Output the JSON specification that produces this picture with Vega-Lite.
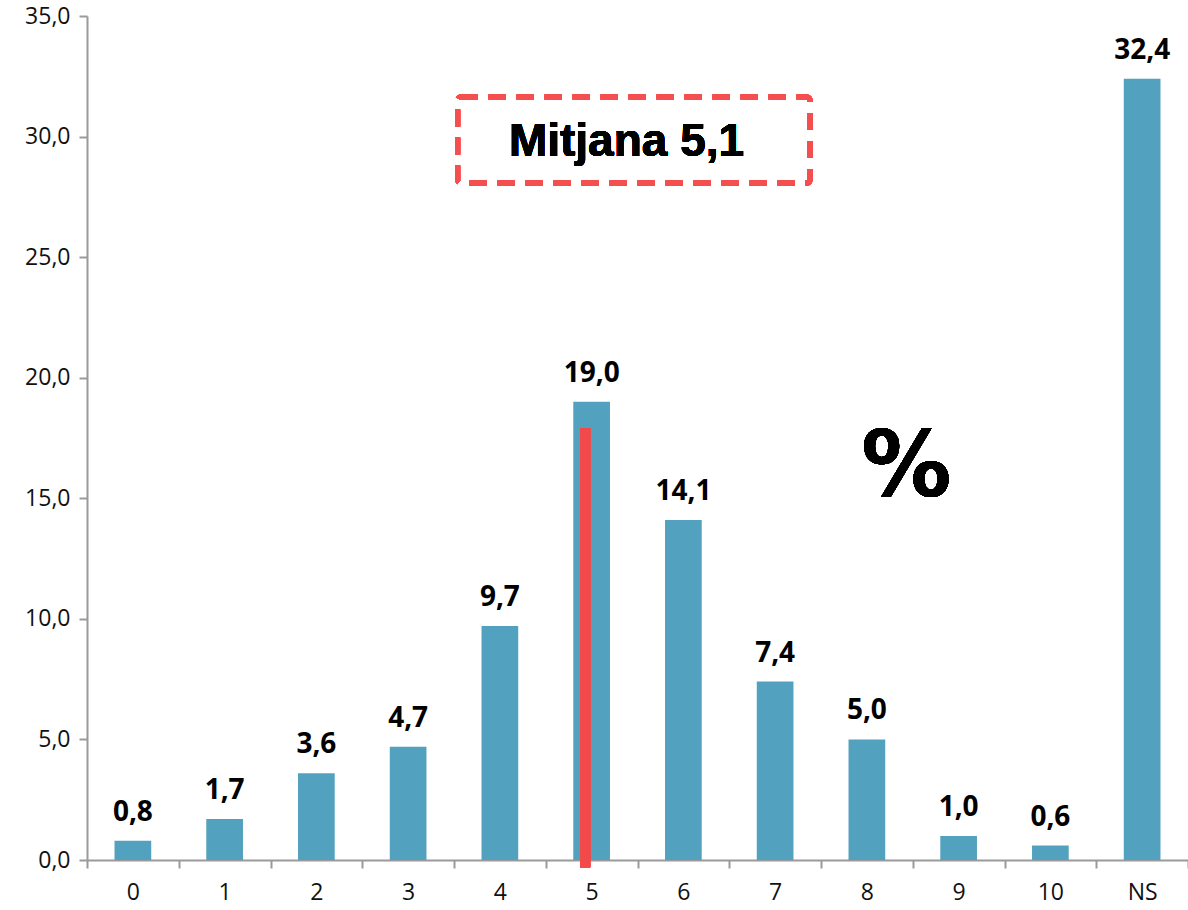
{
  "$schema": "https://vega.github.io/schema/vega-lite/v6.json",
  "width": 1101,
  "height": 844,
  "autosize": "none",
  "padding": {"left": 87, "top": 16, "right": 0, "bottom": 50},
  "background": "white",
  "config": {
    "view": {"stroke": null},
    "locale": {"number": {"decimal": ",", "thousands": ".", "grouping": [3], "currency": ["", " €"]}},
    "axis": {
      "domainColor": "#9a9a9a",
      "domainWidth": 2,
      "tickColor": "#9a9a9a",
      "tickWidth": 2,
      "tickSize": 8,
      "labelFont": "Open Sans",
      "labelColor": "#111111",
      "grid": false,
      "title": null
    }
  },
  "data": {
    "values": [
      {"cat": "0", "pct": 0.8},
      {"cat": "1", "pct": 1.7},
      {"cat": "2", "pct": 3.6},
      {"cat": "3", "pct": 4.7},
      {"cat": "4", "pct": 9.7},
      {"cat": "5", "pct": 19.0},
      {"cat": "6", "pct": 14.1},
      {"cat": "7", "pct": 7.4},
      {"cat": "8", "pct": 5.0},
      {"cat": "9", "pct": 1.0},
      {"cat": "10", "pct": 0.6},
      {"cat": "NS", "pct": 32.4}
    ]
  },
  "resolve": {"scale": {"x": "independent"}, "axis": {"x": "independent"}},
  "layer": [
    {
      "encoding": {
        "x": {
          "field": "cat",
          "type": "ordinal",
          "sort": null,
          "scale": {"paddingInner": 0, "paddingOuter": 0},
          "axis": {"labelAngle": 0, "tickBand": "extent", "labelPadding": 13, "labelFontSize": 23}
        },
        "y": {
          "field": "pct",
          "type": "quantitative",
          "scale": {"domain": [0, 35], "nice": false},
          "axis": {"values": [0, 5, 10, 15, 20, 25, 30, 35], "format": ".1f", "labelPadding": 9, "labelFontSize": 23}
        }
      },
      "layer": [
        {
          "mark": {"type": "bar", "color": "#52A2BF", "width": {"band": 0.4}}
        },
        {
          "mark": {"type": "text", "font": "Open Sans", "fontWeight": "bold", "fontSize": 28, "dy": -20, "baseline": "alphabetic", "color": "#000000"},
          "encoding": {"text": {"field": "pct", "type": "quantitative", "format": ".1f"}}
        }
      ]
    },
    {
      "layer": [
        {
          "mark": {"type": "rule", "color": "#F24A4A", "strokeWidth": 10, "clip": false},
          "encoding": {
            "x": {"datum": 4.93, "type": "quantitative", "scale": {"domain": [-0.5, 11.5], "nice": false, "zero": false}, "axis": null},
            "y": {"datum": 17.9, "type": "quantitative"},
            "y2": {"datum": -0.3}
          }
        },
        {
          "mark": {"type": "rect", "fill": null, "fillOpacity": 0, "stroke": "#F54E4E", "strokeWidth": 5, "strokeDash": [17, 11], "cornerRadius": 3},
          "encoding": {
            "x": {"datum": 3.54, "type": "quantitative"},
            "x2": {"datum": 7.38},
            "y": {"datum": 31.64, "type": "quantitative"},
            "y2": {"datum": 28.07}
          }
        },
        {
          "mark": {"type": "text", "text": "Mitjana 5,1", "font": "Liberation Sans", "fontWeight": "bold", "fontSize": 46, "align": "center", "baseline": "middle", "color": "#000000"},
          "encoding": {
            "x": {"datum": 5.38, "type": "quantitative"},
            "y": {"datum": 29.77, "type": "quantitative"}
          }
        },
        {
          "mark": {"type": "text", "text": "%", "font": "DejaVu Sans", "fontWeight": "bold", "fontSize": 90, "align": "center", "baseline": "middle", "color": "#000000"},
          "encoding": {
            "x": {"datum": 8.43, "type": "quantitative"},
            "y": {"datum": 16.2, "type": "quantitative"}
          }
        }
      ]
    }
  ]
}
